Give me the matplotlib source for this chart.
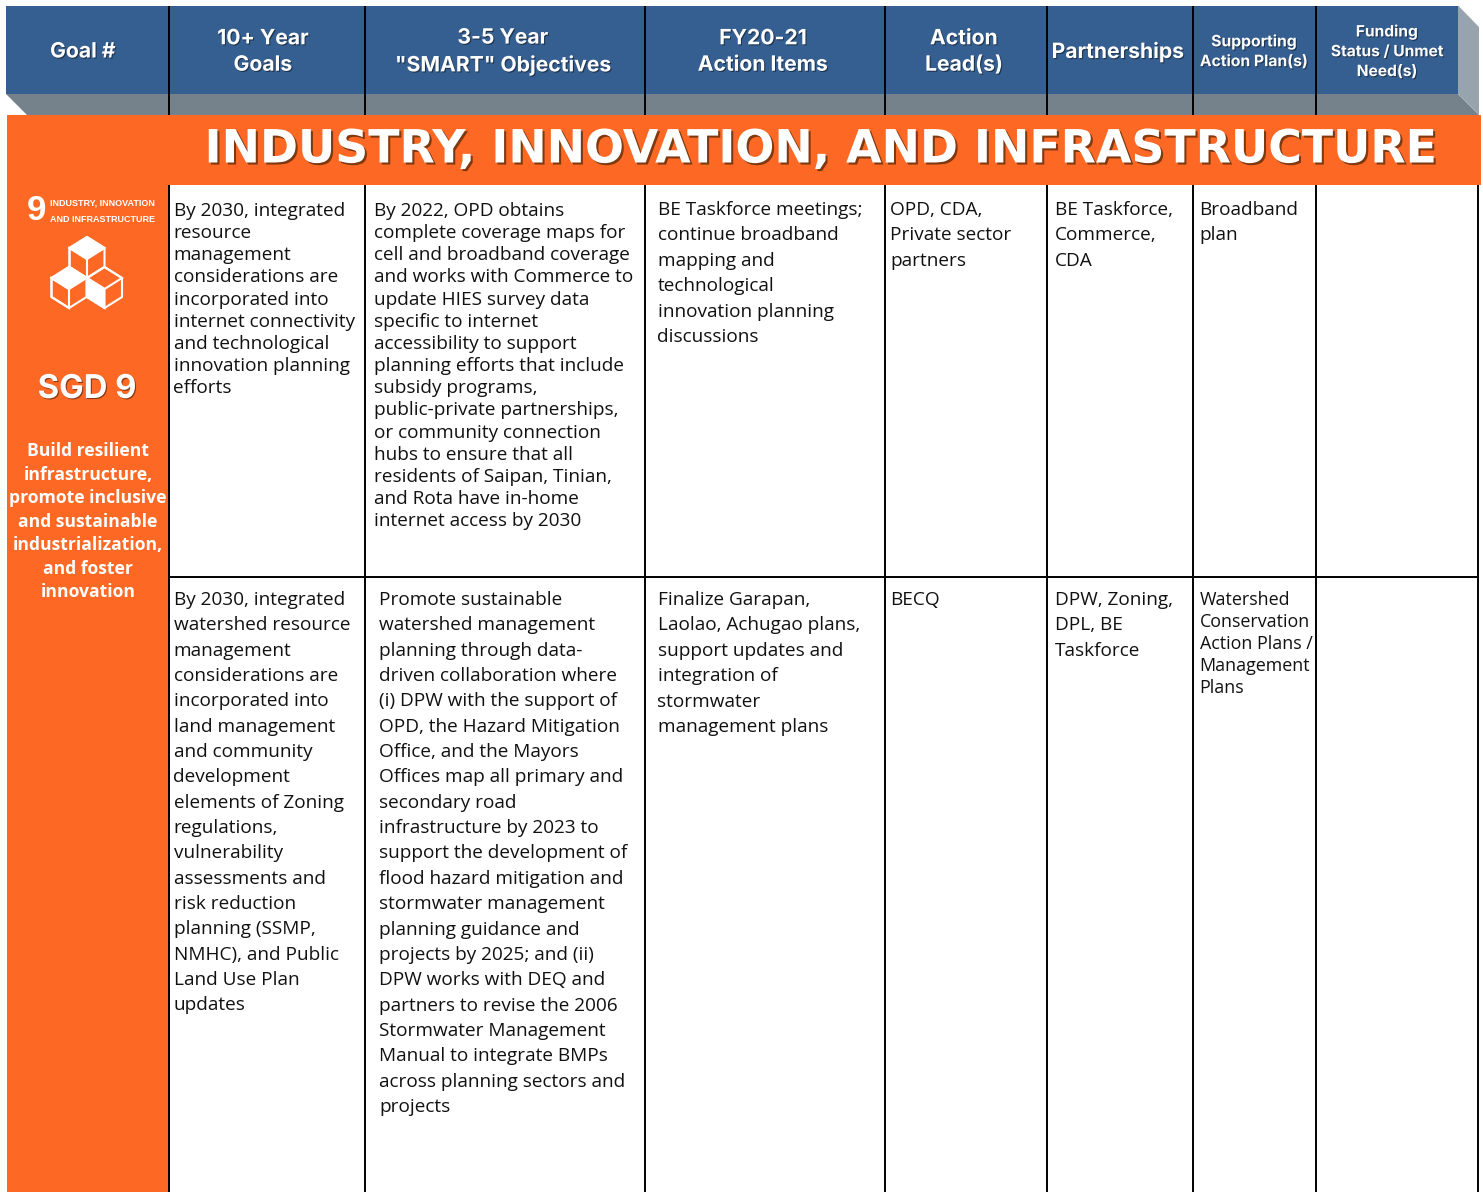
import matplotlib
matplotlib.use('Agg')
import matplotlib.pyplot as plt
import matplotlib.patheffects as pe
from matplotlib.patches import Polygon, Rectangle

header_labels = ['Goal #', '10+ Year\nGoals', '3-5 Year\n"SMART" Objectives', 'FY20-21\nAction Items',
                 'Action\nLead(s)', 'Partnerships', 'Supporting\nAction Plan(s)', 'Funding\nStatus / Unmet\nNeed(s)']
title = 'INDUSTRY, INNOVATION, AND INFRASTRUCTURE'
sdg_number = '9'
sdg_name = ['INDUSTRY, INNOVATION', 'AND INFRASTRUCTURE']
sdg_label = 'SGD 9'
sdg_text = ['Build resilient', 'infrastructure,', 'promote inclusive', 'and sustainable',
            'industrialization,', 'and foster', 'innovation']

goal_1 = ['By 2030, integrated', 'resource', 'management', 'considerations are', 'incorporated into',
          'internet connectivity', 'and technological', 'innovation planning', 'efforts']
objective_1 = ['By 2022, OPD obtains', 'complete coverage maps for', 'cell and broadband coverage',
               'and works with Commerce to', 'update HIES survey data', 'specific to internet',
               'accessibility to support', 'planning efforts that include', 'subsidy programs,',
               'public-private partnerships,', 'or community connection', 'hubs to ensure that all',
               'residents of Saipan, Tinian,', 'and Rota have in-home', 'internet access by 2030']
action_1 = ['BE Taskforce meetings;', 'continue broadband', 'mapping and', 'technological',
            'innovation planning', 'discussions']
lead_1 = ['OPD, CDA,', 'Private sector', 'partners']
partners_1 = ['BE Taskforce,', 'Commerce,', 'CDA']
plan_1 = ['Broadband', 'plan']

goal_2 = ['By 2030, integrated', 'watershed resource', 'management', 'considerations are', 'incorporated into',
          'land management', 'and community', 'development', 'elements of Zoning', 'regulations,',
          'vulnerability', 'assessments and', 'risk reduction', 'planning (SSMP,', 'NMHC), and Public',
          'Land Use Plan', 'updates']
objective_2 = ['Promote sustainable', 'watershed management', 'planning through data-', 'driven collaboration where',
               '(i) DPW with the support of', 'OPD, the Hazard Mitigation', 'Office, and the Mayors',
               'Offices map all primary and', 'secondary road', 'infrastructure by 2023 to',
               'support the development of', 'flood hazard mitigation and', 'stormwater management',
               'planning guidance and', 'projects by 2025; and (ii)', 'DPW works with DEQ and',
               'partners to revise the 2006', 'Stormwater Management', 'Manual to integrate BMPs',
               'across planning sectors and', 'projects']
action_2 = ['Finalize Garapan,', 'Laolao, Achugao plans,', 'support updates and', 'integration of',
            'stormwater', 'management plans']
lead_2 = ['BECQ']
partners_2 = ['DPW, Zoning,', 'DPL, BE', 'Taskforce']
plan_2 = ['Watershed', 'Conservation', 'Action Plans /', 'Management', 'Plans']

BLUE = '#365f91'
GREY = '#76828b'
ORANGE = '#fd6925'

fig = plt.figure(figsize=(14.83, 11.92), dpi=100)
ax = fig.add_axes([0, 0, 1, 1])
ax.set_xlim(0, 1483)
ax.set_ylim(1192, 0)
ax.axis('off')

# column lines and header centres, in pixels
edges = [169, 365, 645, 885, 1047, 1193, 1316]
head_x = [83, 263, 503, 763, 964, 1118, 1254, 1387]
head_sizes = [15.2, 15.2, 15.2, 15.2, 15.2, 15.2, 11.3, 11.2]
shadow = [pe.withSimplePatchShadow(offset=(0.8, -0.8), shadow_rgbFace=(0, 0, 0), alpha=0.45)]

# header band with its 3d sides
ax.add_patch(Rectangle((6, 5.5), 1452, 88.5, color=BLUE, lw=0, zorder=1))
ax.add_patch(Polygon([(6, 94), (1458, 94), (1479, 115), (27, 115)], color=GREY, lw=0, zorder=1))
ax.add_patch(Polygon([(1458, 5.5), (1479, 27), (1479, 115), (1458, 94)], color='#97a3ad', lw=0, zorder=1))

for i, lab in enumerate(header_labels):
    ax.text(head_x[i], 51.5, lab, color='white', fontsize=head_sizes[i], fontweight='bold', family='Inter',
            ha='center', va='center', linespacing=1.4, path_effects=shadow, zorder=5)

# orange blocks
ax.add_patch(Rectangle((7, 115), 1474, 70, color=ORANGE, lw=0, zorder=2))
ax.add_patch(Rectangle((7, 185), 162, 1007, color=ORANGE, lw=0, zorder=2))

ax.text(822, 150, title, color='white', fontsize=33, fontweight='bold', family='DejaVu Sans',
        ha='center', va='center', zorder=5,
        path_effects=[pe.withSimplePatchShadow(offset=(1.5, -1.5), shadow_rgbFace=(0.45, 0.2, 0.05), alpha=0.9)])

# table lines
for x in edges:
    ax.plot([x, x], [6, 115], color='black', lw=1.4, zorder=3, solid_capstyle='butt')
for x in edges + [1478]:
    ax.plot([x, x], [185, 1192], color='black', lw=1.4, zorder=3, solid_capstyle='butt')
ax.plot([169, 1478], [577, 577], color='black', lw=1.4, zorder=3)


def draw_cell(lines, x, y, step, size=13.7):
    for n, line in enumerate(lines):
        ax.text(x, y + n * step, line, fontsize=size, family='Open Sans', color='#111111',
                ha='left', va='center', zorder=5)


draw_cell(goal_1, 173.5, 211, 22.15)
draw_cell(objective_1, 374, 211, 22.15)
draw_cell(action_1, 657.5, 210, 25.4)
draw_cell(lead_1, 890.5, 210, 25.4)
draw_cell(partners_1, 1055, 210, 25.4)
draw_cell(plan_1, 1199.5, 210, 25.4)

draw_cell(goal_2, 173.5, 600, 25.33)
draw_cell(objective_2, 379, 600, 25.35)
draw_cell(action_2, 657.5, 600, 25.4)
draw_cell(lead_2, 890.5, 600, 25.4)
draw_cell(partners_2, 1055, 600, 25.4)
draw_cell(plan_2, 1199.5, 600, 22.1, size=12.85)

# SDG tile in the left column
ax.text(36, 211, sdg_number, color='white', fontsize=25, fontweight='bold', family='Liberation Sans',
        ha='center', va='center', zorder=5)
for n, line in enumerate(sdg_name):
    ax.text(50, 203 + n * 16.5, line, color='white', fontsize=6.5, fontweight='bold',
            family='Liberation Sans', ha='left', va='center', zorder=5)


def cube(cx, cy, w=17.5, h=11, lh=19, top='none', left='none'):
    # one isometric cube, (cx, cy) is the top corner
    outline = [(cx, cy), (cx + w, cy + h), (cx + w, cy + h + lh), (cx, cy + 2 * h + lh),
               (cx - w, cy + h + lh), (cx - w, cy + h)]
    top_face = [(cx, cy), (cx + w, cy + h), (cx, cy + 2 * h), (cx - w, cy + h)]
    left_face = [(cx - w, cy + h), (cx, cy + 2 * h), (cx, cy + 2 * h + lh), (cx - w, cy + h + lh)]
    ax.add_patch(Polygon(outline, fc=ORANGE, ec='white', lw=1.5, zorder=4, joinstyle='round'))
    ax.add_patch(Polygon(top_face, fc=top, ec='white', lw=1.5, zorder=4))
    ax.add_patch(Polygon(left_face, fc=left, ec='white', lw=1.5, zorder=4))


cube(87, 237, top='white')
cube(69, 267, top='white')
cube(104.5, 267, left='white')

ax.text(87, 389.5, sdg_label, color='white', fontsize=23.6, fontweight='bold', family='Inter',
        ha='center', va='center', zorder=5, path_effects=shadow)
for n, line in enumerate(sdg_text):
    ax.text(88, 451 + n * 23.55, line, color='white', fontsize=12.6, fontweight='bold',
            family='Open Sans', ha='center', va='center', zorder=5)

fig.savefig('out.png', dpi=100)
